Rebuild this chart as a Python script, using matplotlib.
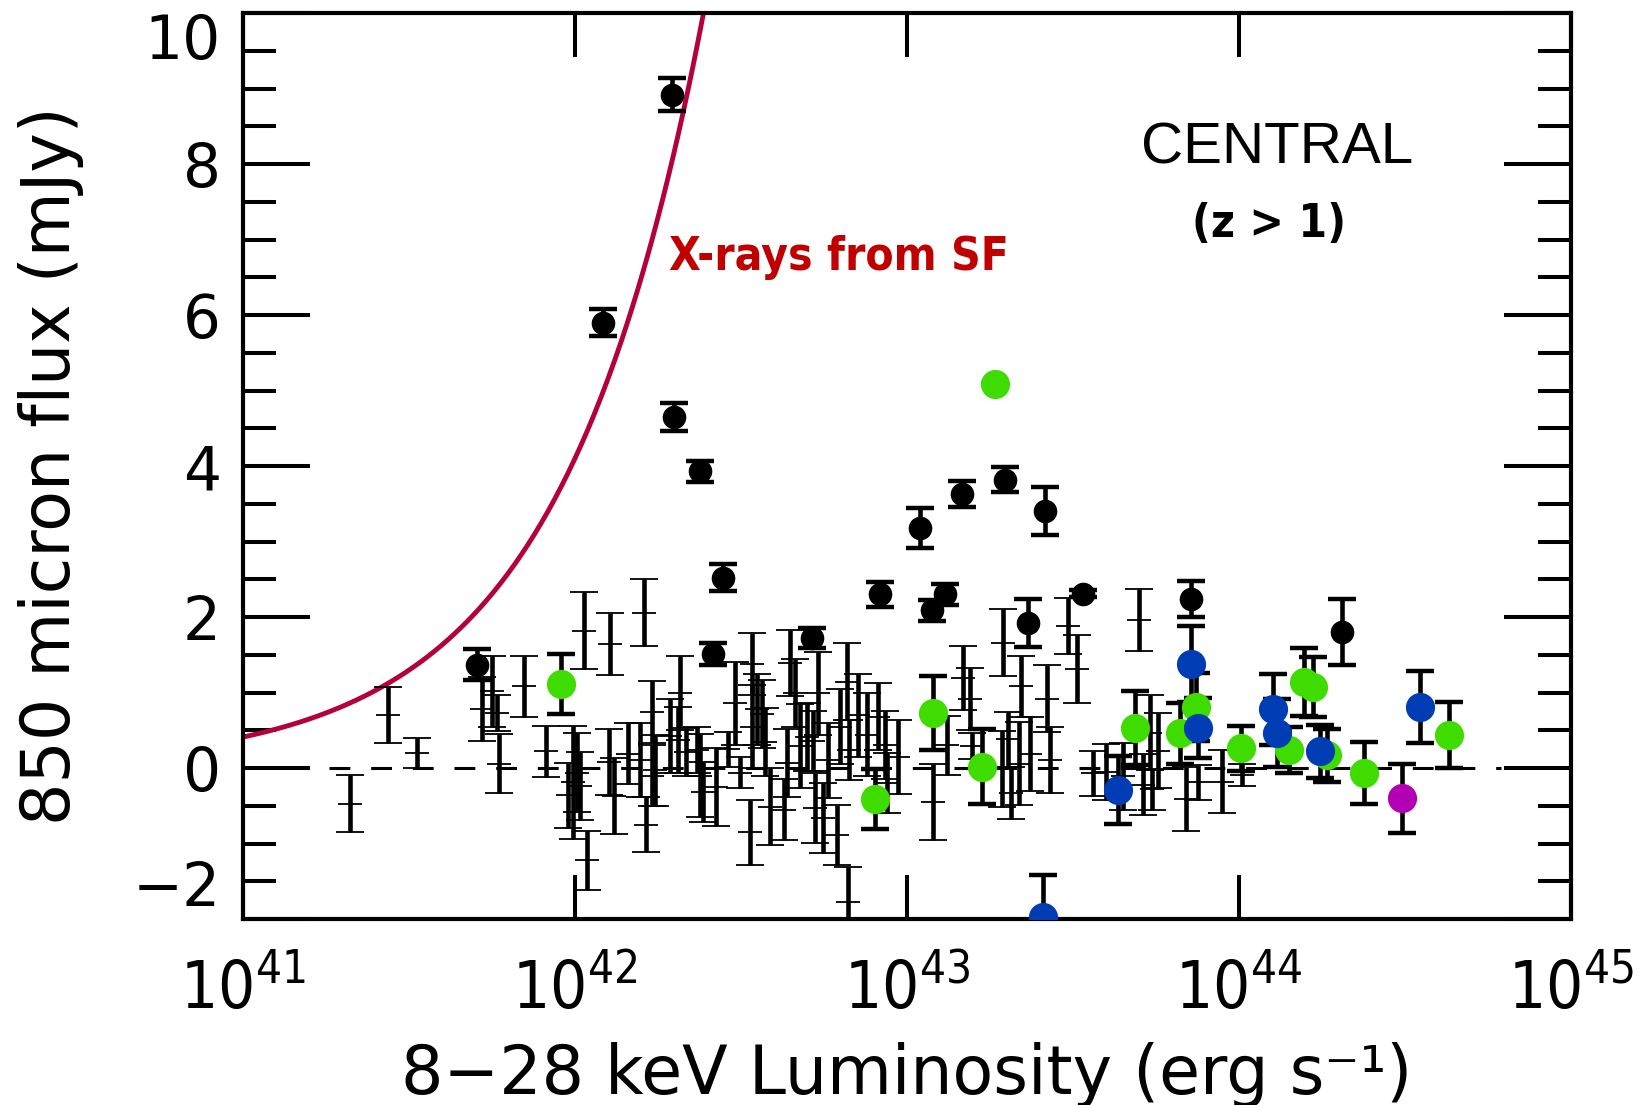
import numpy as np
import matplotlib
matplotlib.use("Agg")
import matplotlib.pyplot as plt
from matplotlib.ticker import MultipleLocator, NullLocator

# ---- data (log10 L_X, 850um flux in mJy, 1-sigma error) ----
# black filled circles: detections
det_logL = [42.291, 42.085, 42.299, 42.376, 42.445, 42.417, 41.704, 42.713, 42.919,
            43.039, 43.076, 43.116, 43.166, 43.296, 43.417, 43.365, 43.531, 43.857, 44.309]
det_flux = [8.92, 5.90, 4.65, 3.93, 2.52, 1.51, 1.37, 1.72, 2.30,
            3.18, 2.09, 2.30, 3.63, 3.82, 3.40, 1.92, 2.31, 2.24, 1.80]
det_err = [0.22, 0.18, 0.18, 0.14, 0.18, 0.14, 0.20, 0.13, 0.17,
           0.26, 0.14, 0.14, 0.17, 0.17, 0.32, 0.32, 0.05, 0.24, 0.44]

# black bars with thin cross: non-detections
nd_logL = [41.322, 41.438, 41.523, 41.721, 41.749, 41.764, 41.770, 41.846, 41.912, 41.980,
           41.995, 42.005, 42.015, 42.027, 42.035, 42.103, 42.105, 42.117, 42.161, 42.196,
           42.208, 42.214, 42.231, 42.232, 42.241, 42.286, 42.310, 42.316, 42.336, 42.367,
           42.377, 42.385, 42.425, 42.462, 42.482, 42.497, 42.527, 42.532, 42.533, 42.547,
           42.563, 42.572, 42.589, 42.630, 42.638, 42.648, 42.663, 42.678, 42.698, 42.717,
           42.723, 42.733, 42.748, 42.762, 42.788, 42.798, 42.818, 42.822, 42.825, 42.853,
           42.879, 42.914, 42.934, 42.940, 42.974, 43.077, 43.120, 43.170, 43.190, 43.195,
           43.285, 43.288, 43.305, 43.313, 43.337, 43.345, 43.370, 43.421, 43.431, 43.486,
           43.511, 43.561, 43.601, 43.651, 43.700, 43.712, 43.732, 43.738, 43.757, 43.842,
           43.877, 43.948, 44.008]
nd_flux = [-0.47, 0.70, 0.20, 0.78, 1.02, 0.73, 0.06, 1.08, 0.22, -0.36,
           -0.19, -0.06, -0.24, 1.82, -1.22, 0.08, 1.64, -0.37, 0.19, 0.11,
           2.06, -0.75, 0.74, -0.10, -0.03, 0.42, 0.37, 0.99, 0.21, 0.24,
           -0.10, -0.32, -0.25, 0.25, 0.86, -0.06, -0.85, 1.38, 0.55, 0.78,
           0.71, 0.35, -0.51, -0.55, 0.07, 1.39, 1.00, 0.29, 0.41, 0.36,
           -0.53, 0.99, -0.66, 0.10, -0.89, 0.55, 1.14, -1.78, 0.24, 0.70,
           0.44, 0.68, 0.30, -0.20, 0.15, -0.45, 0.30, 1.19, 0.91, 0.29,
           -0.01, 1.66, 0.38, -0.33, 0.06, 1.08, 0.19, 0.92, 0.11, 1.88,
           1.31, -0.07, -0.05, -0.11, 1.96, -0.22, 0.47, -0.28, 0.23, -0.41,
           -0.19, -0.18, -0.09]
nd_err = [0.38, 0.37, 0.20, 0.42, 0.47, 0.24, 0.39, 0.41, 0.34, 0.43,
          0.75, 0.52, 0.45, 0.51, 0.39, 0.44, 0.41, 0.50, 0.40, 0.49,
          0.45, 0.36, 0.41, 0.40, 0.47, 0.49, 0.44, 0.49, 0.32, 0.30,
          0.55, 0.40, 0.52, 0.23, 0.55, 0.20, 0.43, 0.41, 0.55, 0.47,
          0.45, 0.45, 0.51, 0.40, 0.45, 0.44, 0.45, 0.56, 0.45, 0.40,
          0.46, 0.55, 0.46, 0.50, 0.40, 0.50, 0.51, 0.47, 0.40, 0.55,
          0.55, 0.44, 0.45, 0.40, 0.49, 0.50, 0.39, 0.42, 0.41, 0.17,
          0.50, 0.44, 0.36, 0.35, 0.55, 0.40, 0.49, 0.44, 0.44, 0.37,
          0.45, 0.30, 0.37, 0.44, 0.41, 0.40, 0.50, 0.27, 0.50, 0.42,
          0.23, 0.42, 0.15]

green_logL = [41.957, 43.265, 43.077, 42.904, 43.225, 43.687, 43.822, 43.872,
              44.005, 44.151, 44.197, 44.224, 44.264, 44.378, 44.633]
green_flux = [1.11, 5.09, 0.73, -0.41, 0.02, 0.53, 0.46, 0.81,
              0.26, 0.24, 1.14, 1.07, 0.17, -0.07, 0.44]
green_err = [0.40, 0.0, 0.49, 0.40, 0.50, 0.49, 0.40, 0.45,
             0.30, 0.30, 0.45, 0.40, 0.35, 0.41, 0.44]

blue_logL = [43.41, 43.636, 43.855, 43.877, 44.102, 44.114, 44.244, 44.545]
blue_flux = [-1.97, -0.29, 1.38, 0.53, 0.78, 0.46, 0.22, 0.81]
blue_err = [0.55, 0.45, 0.50, 0.40, 0.47, 0.45, 0.35, 0.48]

magenta_logL = [44.491]
magenta_flux = [-0.40]
magenta_err = [0.46]

# star-formation X-ray model: flux proportional to L_X
sf_flux_at_1e41 = 0.41
zero_line_logL = [41.26, 44.79]

fig = plt.figure(figsize=(16.46, 11.05), dpi=100)
ax = fig.add_axes([0.1476, 0.1683, 0.8068, 0.8199])

# dashed zero line
ax.plot(10 ** np.array(zero_line_logL), [0, 0], color="black", lw=2.2,
        dashes=(15 / 2.2, 15 / 2.2), zorder=1)

# SF curve
L = np.logspace(41, 42.5, 300)
ax.plot(L, sf_flux_at_1e41 * L / 1e41, color="#b4003c", lw=3.5, zorder=2)

eb = dict(ecolor="black", elinewidth=3.3, capsize=10, capthick=3.2, ls="none")

ax.errorbar(10 ** np.array(nd_logL), nd_flux, yerr=nd_err, fmt="_", color="black",
            ms=17, mew=1.3, zorder=3, **eb)
ax.errorbar(10 ** np.array(det_logL), det_flux, yerr=det_err, fmt="o", color="black",
            ms=17, mec="none", zorder=4, **eb)
for lg, fl, er, col in [(green_logL, green_flux, green_err, "#3fdc00"),
                        (blue_logL, blue_flux, blue_err, "#003cb4"),
                        (magenta_logL, magenta_flux, magenta_err, "#b400b4")]:
    ax.errorbar(10 ** np.array(lg), fl, yerr=er, fmt="o", mfc=col, mec="none",
                ms=21, zorder=5, **eb)

ax.set_xscale("log")
ax.set_xlim(1e41, 1e45)
ax.set_ylim(-2, 10)

ax.set_xticks([1e41, 1e42, 1e43, 1e44, 1e45])
ax.set_xticklabels([r"$\mathdefault{10^{%d}}$" % e for e in range(41, 46)],
                   fontfamily="DejaVu Sans", fontstretch="condensed", fontsize=47)
ax.xaxis.set_minor_locator(NullLocator())
ax.set_yticks(range(-2, 11, 2))
ax.set_yticklabels(["\u22122", "0", "2", "4", "6", "8", "10"], fontsize=43)
ax.yaxis.set_minor_locator(MultipleLocator(0.5))
ylabs = ax.get_yticklabels()
ylabs[0].set_va("bottom")
ylabs[-1].set_va("top")

ax.tick_params(which="both", direction="in", top=True, right=True, width=2.9)
ax.tick_params(axis="x", which="major", length=32, pad=28)
ax.tick_params(axis="y", which="major", length=48, pad=16)
ax.tick_params(axis="y", which="minor", length=24)
for s in ax.spines.values():
    s.set_linewidth(3.0)

ax.set_ylabel("850 micron flux (mJy)", fontsize=48)
ax.yaxis.set_label_coords(-0.12, 0.5)
ax.set_xlabel("8\u221228 keV Luminosity (erg s\u207b\u00b9)", fontsize=48)
ax.xaxis.set_label_coords(0.5, -0.136)

ax.text(0.3208, 0.7163, "X-rays from SF", transform=ax.transAxes, color="#c00000",
        fontsize=33, fontweight="bold", fontstretch="condensed", ha="left", va="baseline")
ax.text(0.7784, 0.834, "CENTRAL", transform=ax.transAxes, fontsize=42,
        fontfamily=["Liberation Sans", "DejaVu Sans"], ha="center", va="baseline")
ax.text(0.7726, 0.7531, "(z > 1)", transform=ax.transAxes, fontsize=33,
        fontweight="bold", fontstretch="condensed", ha="center", va="baseline")

fig.savefig("out.png", dpi=100)
